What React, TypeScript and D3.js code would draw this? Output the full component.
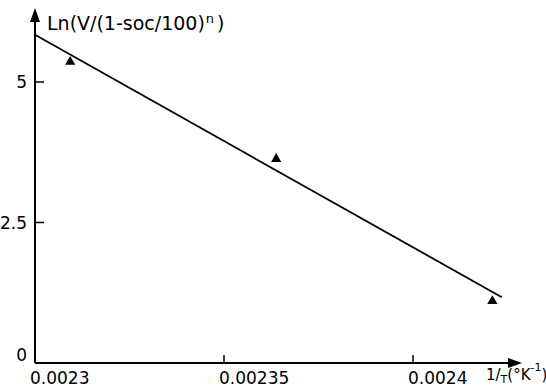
import React, { useRef, useEffect } from 'react';
import * as d3 from 'd3';

// measured points (1/T, ln value)
const pointX = [0.0023093, 0.0023638, 0.002421];
const pointY = [5.36, 3.63, 1.1];

// regression line end points
const fitX = [0.0023, 0.0024235];
const fitY = [5.84, 1.17];

const xTicks = [0.0023, 0.00235, 0.0024];
const xTickLabels = ['0.0023', '0.00235', '0.0024'];
const yTicks = [0, 2.5, 5];
const yTickLabels = ['0', '2.5', '5'];

const FONT = "'DejaVu Sans', sans-serif";

function App() {
  const ref = useRef(null);
  var width = 546;
  var height = 389;

  useEffect(() => {
    const svg = d3.select(ref.current);
    svg.selectAll('*').remove();

    var x = d3.scaleLinear().domain([0.0023, 0.0024]).range([35, 413]);
    var y = d3.scaleLinear().domain([0, 5]).range([363, 82]);

    const g = svg.append('g').attr('font-family', FONT).attr('fill', '#000');

    // axes
    g.append('line')
      .attr('x1', x(0.0023)).attr('y1', y(0))
      .attr('x2', 512).attr('y2', y(0))
      .attr('stroke', '#000').attr('stroke-width', 2);
    g.append('path')
      .attr('d', `M522,${y(0)} L508,${y(0) - 5} L508,${y(0) + 5} Z`)
      .attr('fill', '#000');

    g.append('line')
      .attr('x1', x(0.0023)).attr('y1', y(0))
      .attr('x2', x(0.0023)).attr('y2', 18)
      .attr('stroke', '#000').attr('stroke-width', 2);
    g.append('path')
      .attr('d', `M${x(0.0023)},8 L${x(0.0023) - 5},22 L${x(0.0023) + 5},22 Z`)
      .attr('fill', '#000');

    // x ticks
    g.selectAll('.xt')
      .data(xTicks)
      .join('line')
      .attr('x1', d => x(d)).attr('x2', d => x(d))
      .attr('y1', y(0)).attr('y2', y(0) - 8)
      .attr('stroke', '#000').attr('stroke-width', 1.5);
    g.selectAll('.xl')
      .data(xTicks)
      .join('text')
      .attr('x', d => x(d) - 5)
      .attr('y', 384)
      .attr('font-size', 17)
      .text((d, i) => xTickLabels[i]);

    // y ticks
    g.selectAll('.yt')
      .data(yTicks.filter(d => d > 0))
      .join('line')
      .attr('x1', x(0.0023)).attr('x2', x(0.0023) + 9)
      .attr('y1', d => y(d)).attr('y2', d => y(d))
      .attr('stroke', '#000').attr('stroke-width', 1.5);
    g.selectAll('.yl')
      .data(yTicks)
      .join('text')
      .attr('x', 27)
      .attr('y', d => y(d) + (d === 0 ? -2 : 6))
      .attr('text-anchor', 'end')
      .attr('font-size', 17)
      .text((d, i) => yTickLabels[i]);

    // fit line
    g.append('path')
      .datum(fitX.map((v, i) => [v, fitY[i]]))
      .attr('d', d3.line().x(d => x(d[0])).y(d => y(d[1])))
      .attr('fill', 'none')
      .attr('stroke', '#000')
      .attr('stroke-width', 1.8);

    // points
    g.selectAll('.pt')
      .data(pointX.map((v, i) => [v, pointY[i]]))
      .join('path')
      .attr('transform', d => `translate(${x(d[0])},${y(d[1])})`)
      .attr('d', d3.symbol().type(d3.symbolTriangle).size(45))
      .attr('fill', '#000');

    // y axis title
    const yt = g.append('text').attr('x', 47).attr('y', 30).attr('font-size', 19);
    yt.append('tspan').text('Ln(V/(1-soc/100)');
    yt.append('tspan').attr('dy', -7).attr('dx', 1).attr('font-size', 13).text('n');
    yt.append('tspan').attr('dy', 7).attr('dx', 3).text(')');

    // x axis title
    const xt = g.append('text').attr('x', 486).attr('y', 380).attr('font-size', 15);
    xt.append('tspan').text('1/');
    xt.append('tspan').attr('dy', 3).attr('font-size', 11).text('T');
    xt.append('tspan').attr('dy', -3).text('(°K');
    xt.append('tspan').attr('dy', -9).attr('font-size', 11).text('-1');
    xt.append('tspan').attr('dy', 9).text(')');
  }, []);

  return (
    <div style={{ position: 'absolute', left: 0, top: 0 }}>
      <svg ref={ref} width={width} height={height} style={{ display: 'block', background: '#fff' }} />
    </div>
  );
}

export default App;
